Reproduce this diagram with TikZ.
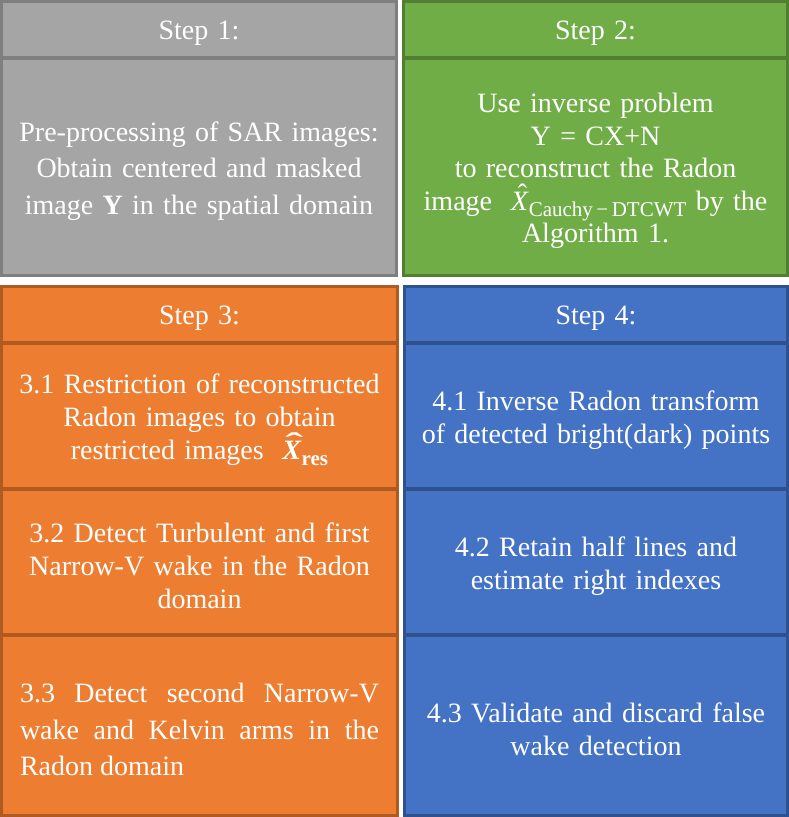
\documentclass[tikz,border=0pt]{standalone}
\usepackage{fontspec}
\setmainfont{Liberation Serif}
\definecolor{gfill}{HTML}{A5A5A5}
\definecolor{gline}{HTML}{7F7F7F}
\definecolor{nfill}{HTML}{70AD47}
\definecolor{nline}{HTML}{507E32}
\definecolor{ofill}{HTML}{ED7D31}
\definecolor{oline}{HTML}{AE5A21}
\definecolor{bfill}{HTML}{4472C4}
\definecolor{bline}{HTML}{2F528F}
\newcommand{\hatX}{\ooalign{\textit{X}\cr\hidewidth\kern0.2em\raisebox{0.24em}{\char"02C6}\hidewidth\cr}}
\newcommand{\bhatX}{\ooalign{\textbf{\textit{X}}\cr\hidewidth\kern0.16em\raisebox{0.24em}{\scalebox{1.9}[1]{\bfseries\char"02C6}}\hidewidth\cr}}
\tikzset{
  cell/.style={draw, line width=2.6pt, inner sep=0pt},
  txt/.style={inner sep=0pt, text=white, yshift=-4pt,
    font=\fontsize{28}{33}\selectfont, align=center, text width=385pt},
  loose/.style={font=\fontsize{28}{36.5}\selectfont},
  graycell/.style={cell, fill=gfill, draw=gline, minimum width=395.4pt},
  greencell/.style={cell, fill=nfill, draw=nline, minimum width=384.4pt},
  orangecell/.style={cell, fill=ofill, draw=oline, minimum width=396.4pt},
  bluecell/.style={cell, fill=bfill, draw=bline, minimum width=383.4pt},
  headrow/.style={minimum height=56.4pt},
}
\begin{document}
\begin{tikzpicture}[x=1pt,y=-1pt]
\useasboundingbox (0,0) rectangle (789,817);
% cells
\node[graycell, headrow] (s1h) at (199,29.5) {};
\node[graycell, minimum height=217.4pt] (s1b) at (199,167) {};
\node[greencell, headrow] (s2h) at (595.5,29.5) {};
\node[greencell, minimum height=217.4pt] (s2b) at (595.5,167) {};
\node[orangecell, headrow] (s3h) at (199.5,314.5) {};
\node[orangecell, minimum height=145.4pt] (s31) at (199.5,416) {};
\node[orangecell, minimum height=145.4pt] (s32) at (199.5,562) {};
\node[orangecell, minimum height=180.4pt] (s33) at (199.5,725.5) {};
\node[bluecell, headrow] (s4h) at (596,314.5) {};
\node[bluecell, minimum height=145.4pt] (s41) at (596,416) {};
\node[bluecell, minimum height=145.4pt] (s42) at (596,562) {};
\node[bluecell, minimum height=180.4pt] (s43) at (596,725.5) {};
% texts
\node[txt] (t1h) at (s1h.center) {Step 1:};
\node[txt, loose] (t1b) at (s1b.center)
  {Pre-processing of SAR images:\\ Obtain centered and masked\\ image \textbf{Y} in the spatial domain};
\node[txt] (t2h) at (s2h.center) {Step 2:};
\node[txt, font=\fontsize{28}{32.5}\selectfont] (t2b) at (s2b.center)
  {Use inverse problem\\ Y = CX+N\\ to reconstruct the Radon\\ image \ \hatX\raisebox{-0.22em}{\fontsize{21}{21}\selectfont Cauchy\,−\,DTCWT} by the\\ Algorithm 1.};
\node[txt] (t3h) at (s3h.center) {Step 3:};
\node[txt] (t31) at (s31.center)
  {3.1 Restriction of reconstructed\\ Radon images to obtain\\ restricted images \ \bhatX\raisebox{-0.22em}{\fontsize{21}{21}\selectfont\bfseries res}};
\node[txt] (t32) at (s32.center)
  {3.2 Detect Turbulent and first\\ Narrow-V wake in the Radon\\ domain};
\node[txt, loose, text width=359pt, align=justify] (t33) at (s33.center)
  {3.3 Detect second Narrow-V\linebreak wake and Kelvin arms in the\linebreak Radon domain};
\node[txt] (t4h) at (s4h.center) {Step 4:};
\node[txt] (t41) at (s41.center)
  {4.1 Inverse Radon transform\\ of detected bright(dark) points};
\node[txt] (t42) at (s42.center)
  {4.2 Retain half lines and\\ estimate right indexes};
\node[txt] (t43) at (s43.center)
  {4.3 Validate and discard false\\ wake detection};
\end{tikzpicture}
\end{document}
